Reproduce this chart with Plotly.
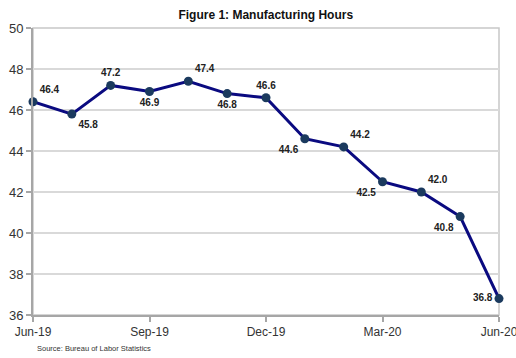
import plotly.graph_objects as go

months = ["Jun-19", "Jul-19", "Aug-19", "Sep-19", "Oct-19", "Nov-19", "Dec-19",
          "Jan-20", "Feb-20", "Mar-20", "Apr-20", "May-20", "Jun-20"]
hours = [46.4, 45.8, 47.2, 46.9, 47.4, 46.8, 46.6, 44.6, 44.2, 42.5, 42.0, 40.8, 36.8]
label_pos = ["top right", "bottom right", "top center", "bottom center", "top right",
             "bottom center", "top center", "bottom left", "top right", "bottom left",
             "top right", "bottom left", "middle left"]
tick_months = ["Jun-19", "Sep-19", "Dec-19", "Mar-20", "Jun-20"]
y_ticks = [36, 38, 40, 42, 44, 46, 48, 50]

x_idx = list(range(len(months)))
tick_idx = [months.index(m) for m in tick_months]

fig = go.Figure()
fig.add_trace(go.Scatter(
    x=x_idx, y=hours, mode="lines+markers+text",
    line=dict(color="#0a0a80", width=3),
    marker=dict(color="#1b3a5e", size=9),
    text=[f"<b>{v:.1f}</b>" for v in hours],
    textposition=label_pos,
    textfont=dict(family="Liberation Sans, Arial", size=10, color="#222222"),
    cliponaxis=False,
    showlegend=False,
))

fig.update_layout(
    width=516, height=358,
    margin=dict(l=33, r=17, t=28, b=43, autoexpand=False),
    paper_bgcolor="white", plot_bgcolor="white",
    font=dict(family="Liberation Sans, Arial", color="#333333"),
    title=dict(text="<b>Figure 1: Manufacturing Hours</b>", x=0.515, xanchor="center",
               y=0.958, yanchor="middle", font=dict(size=12, color="#111111")),
    shapes=[dict(type="rect", xref="paper", yref="paper", x0=0, x1=1, y0=0, y1=1,
                 line=dict(color="#c8c8c8", width=1.5), layer="below")],
    annotations=[dict(text="Source: Bureau of Labor Statistics", xref="paper", yref="paper",
                      x=0.005, y=-0.115, xanchor="left", yanchor="middle", showarrow=False,
                      font=dict(size=7.5, color="#333333"))],
)
fig.update_xaxes(
    range=[0, 12], tickvals=tick_idx, ticktext=tick_months, automargin=False,
    showgrid=False, zeroline=False, ticklabeloverflow="allow",
    showline=True, linecolor="#a6a6a6", linewidth=2,
    ticks="outside", ticklen=5, tickcolor="#a6a6a6", tickwidth=1.5,
    tickfont=dict(size=12, color="#333333"),
)
fig.update_yaxes(
    range=[36, 50], tickvals=y_ticks, automargin=False,
    showgrid=True, gridcolor="#d9d9d9", gridwidth=1.5, zeroline=False,
    showline=True, linecolor="#a6a6a6", linewidth=2,
    ticks="outside", ticklen=5, tickcolor="#a6a6a6", tickwidth=1.5,
    tickfont=dict(size=13, color="#333333"),
)

fig.write_html("out.html")
